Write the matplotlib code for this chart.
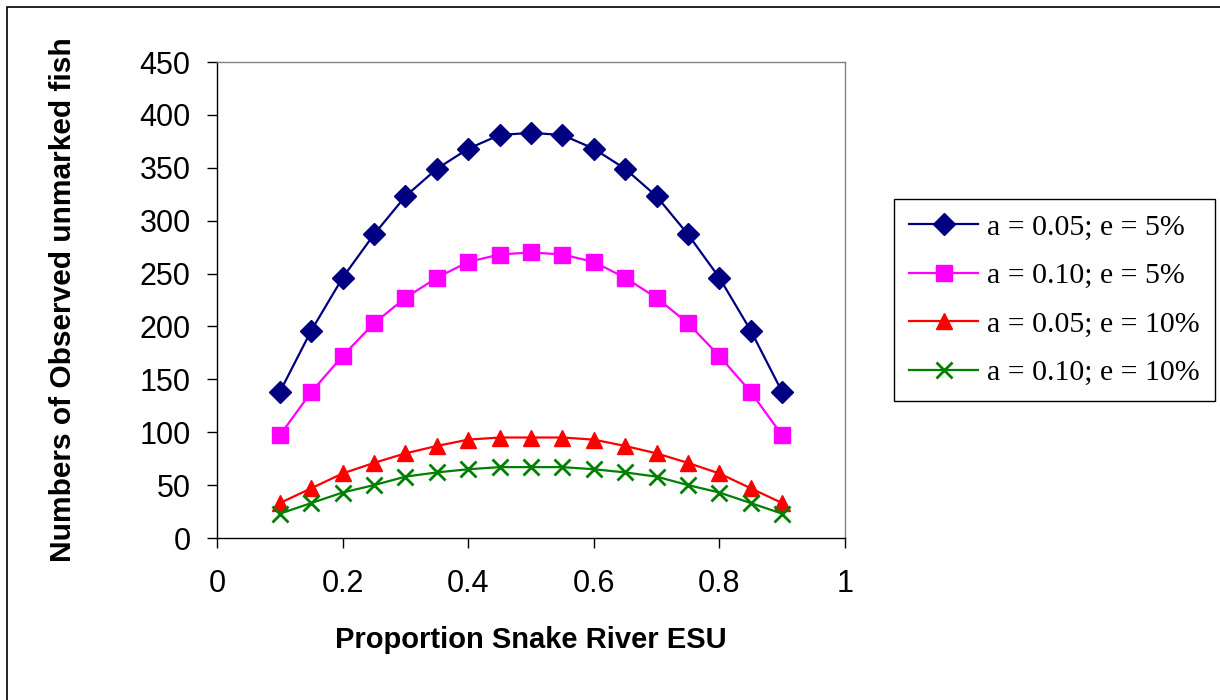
import matplotlib
matplotlib.use("Agg")
import matplotlib.pyplot as plt
from matplotlib.patches import Rectangle

# proportion of Snake River ESU
proportion = [0.10, 0.15, 0.20, 0.25, 0.30, 0.35, 0.40, 0.45, 0.50,
              0.55, 0.60, 0.65, 0.70, 0.75, 0.80, 0.85, 0.90]

# numbers of observed unmarked fish
a05_e5 = [138, 196, 246, 287, 323, 349, 368, 381, 383,
          381, 368, 349, 323, 287, 246, 196, 138]
a10_e5 = [97, 138, 172, 203, 227, 246, 261, 268, 270,
          268, 261, 246, 227, 203, 172, 138, 97]
a05_e10 = [33, 47, 61, 71, 80, 87, 93, 95, 95,
           95, 93, 87, 80, 71, 61, 47, 33]
a10_e10 = [23, 33, 43, 50, 58, 62, 65, 67, 67,
           67, 65, 62, 58, 50, 43, 33, 23]

labels = ["a = 0.05; e = 5%", "a = 0.10; e = 5%",
          "a = 0.05; e = 10%", "a = 0.10; e = 10%"]

W, H = 1220, 700
fig = plt.figure(figsize=(W / 100, H / 100), dpi=100)
plt.rcParams["font.family"] = ["Liberation Sans", "DejaVu Sans"]

ax = fig.add_axes([217 / W, 1 - 538 / H, (845 - 217) / W, (538 - 62) / H])

ax.plot(proportion, a05_e5, color="#000080", marker="D", markersize=11, lw=1.6, label=labels[0])
ax.plot(proportion, a10_e5, color="#FF00FF", marker="s", markersize=12, lw=1.6, label=labels[1])
ax.plot(proportion, a05_e10, color="#FF0000", marker="^", markersize=12, lw=1.6, label=labels[2])
ax.plot(proportion, a10_e10, color="#008000", marker="x", markersize=11, mew=2, lw=1.6, label=labels[3])

ax.set_xlim(0, 1)
ax.set_ylim(0, 450)
ax.set_xticks([0, 0.2, 0.4, 0.6, 0.8, 1])
ax.set_xticklabels(["0", "0.2", "0.4", "0.6", "0.8", "1"])
ax.set_yticks(range(0, 451, 50))
ax.tick_params(axis="both", direction="out", length=7, width=1, labelsize=22)
ax.tick_params(axis="y", pad=12)
ax.tick_params(axis="x", pad=15)
for side in ["top", "right"]:
    ax.spines[side].set_color("#808080")
    ax.spines[side].set_linewidth(1)
for side in ["left", "bottom"]:
    ax.spines[side].set_linewidth(1)

fig.text(531 / W, 1 - 640 / H, "Proportion Snake River ESU", ha="center", va="center",
         fontsize=21, fontweight="bold")
fig.text(63 / W, 1 - 300 / H, "Numbers of Observed unmarked fish", ha="center", va="center",
         rotation=90, fontsize=21.5, fontweight="bold")

leg = ax.legend(loc="center", bbox_to_anchor=((897 + 1212) / 2 / W, 1 - 300 / H),
                bbox_transform=fig.transFigure, frameon=True, fancybox=False,
                edgecolor="black", framealpha=1, borderpad=0.5,
                prop={"family": "Liberation Serif", "size": 21.5},
                handlelength=2.3, handletextpad=0.3, labelspacing=0.72)
leg.get_frame().set_linewidth(1)

fig.patches.append(Rectangle((7 / W, -0.1), 1.2, 1.1 - 7 / H, transform=fig.transFigure,
                             fill=False, edgecolor="black", linewidth=1.2))

fig.savefig("out.png", dpi=100)
